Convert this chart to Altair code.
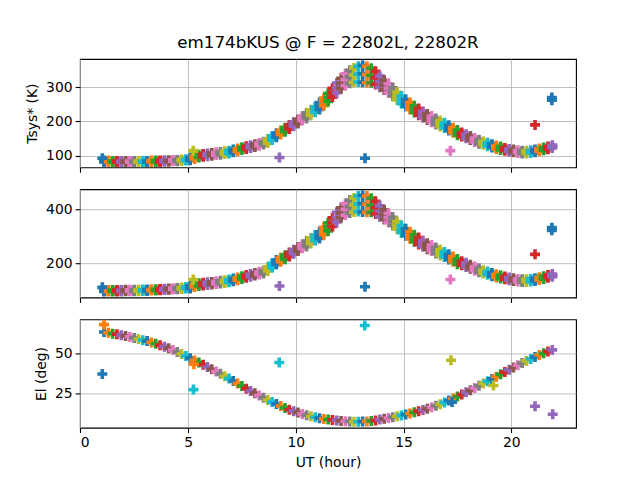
import altair as alt
import pandas as pd

# ---------------- data ----------------
UT = [1.1, 1.3, 1.5, 1.7, 1.9, 2.1, 2.3, 2.5, 2.7, 2.9,
      3.1, 3.3, 3.5, 3.7, 3.9, 4.1, 4.3, 4.5, 4.7, 4.9,
      5.1, 5.3, 5.5, 5.7, 5.9, 6.1, 6.3, 6.5, 6.7, 6.9,
      7.1, 7.3, 7.5, 7.7, 7.9, 8.1, 8.3, 8.5, 8.7, 8.9,
      9.1, 9.3, 9.5, 9.7, 9.9, 10.1, 10.3, 10.5, 10.7, 10.9,
      11.1, 11.3, 11.5, 11.7, 11.9, 12.1, 12.3, 12.5, 12.7, 12.9,
      13.1, 13.3, 13.5, 13.7, 13.9, 14.1, 14.3, 14.5, 14.7, 14.9,
      15.1, 15.3, 15.5, 15.7, 15.9, 16.1, 16.3, 16.5, 16.7, 16.9,
      17.1, 17.3, 17.5, 17.7, 17.9, 18.1, 18.3, 18.5, 18.7, 18.9,
      19.1, 19.3, 19.5, 19.7, 19.9, 20.1, 20.3, 20.5, 20.7, 20.9,
      21.1, 21.3, 21.5, 21.7, 21.9]

TSYS1_HI = [86, 86, 85, 85, 85, 85, 85, 85, 85, 85,
            85, 86, 86, 86, 87, 87, 88, 88, 89, 90,
            95, 99, 103, 105, 107, 108, 110, 111, 113, 115,
            118, 121, 125, 128, 131, 134, 137, 141,
            149, 158, 166, 174, 182, 190, 198, 206, 215,
            225, 234, 243,
            255, 268, 282, 297, 312, 326, 339, 349, 356, 361,
            364, 361, 355, 346, 332, 320, 310, 298, 285, 274,
            264, 255, 246, 238, 229, 222, 216, 209, 203,
            196, 189, 182, 175, 168, 163, 158, 152, 147,
            142, 138, 134, 130, 127,
            123, 120, 118, 116, 115, 115, 116, 118, 121, 124, 127, 131]
TSYS1_MID = [84, 84, 83, 83, 83, 83, 83, 83, 83, 83,
             83, 84, 84, 84, 85, 85, 86, 86, 87, 88,
             91, 95, 99, 101, 103, 104, 106, 107, 109, 111,
             114, 117, 121, 124, 127, 130, 133, 137,
             143, 152, 160, 168, 176, 184, 192, 200, 209,
             217, 226, 235,
             245, 257, 270, 284, 298, 311, 322, 330, 335, 338,
             339, 337, 334, 327, 316, 306, 297, 286, 274, 263,
             254, 245, 236, 228, 220, 213, 207, 200, 194,
             188, 181, 174, 167, 162, 157, 152, 146, 141,
             137, 133, 129, 125, 122,
             119, 116, 114, 112, 111, 111, 112, 114, 117, 120, 123, 127]
TSYS1_LO = [82, 82, 81, 81, 81, 81, 81, 81, 81, 81,
            81, 82, 82, 82, 83, 83, 84, 84, 85, 86,
            87, 91, 95, 97, 99, 100, 102, 103, 105, 107,
            110, 113, 117, 120, 123, 126, 129, 133,
            137, 146, 154, 162, 170, 178, 186, 194, 203,
            209, 218, 227,
            235, 246, 258, 271, 284, 296, 305, 311, 314, 315,
            314, 313, 313, 308, 300, 292, 284, 274, 263, 252,
            244, 235, 226, 218, 211, 204, 198, 191, 185,
            181, 174, 167, 160, 156, 151, 146, 140, 135,
            132, 128, 124, 120, 117,
            115, 112, 110, 108, 107, 107, 108, 110, 113, 116, 119, 123]

TSYS2_HI = [103, 103, 103, 103, 103, 104, 104, 104, 104, 105,
            105, 106, 106, 107, 108, 109, 110, 111, 112, 114,
            119, 124, 128, 130, 132, 133, 135, 137, 139, 142,
            145, 149, 154, 158, 162, 166, 170, 174,
            188, 201, 213, 222, 231, 241, 251, 261, 271,
            283, 294, 305,
            317, 333, 350, 368, 388, 405, 420, 433, 441, 448,
            451, 448, 440, 429, 412, 397, 384, 370, 354, 340,
            328, 317, 306, 296, 284, 275, 268, 259, 252,
            243, 234, 226, 217, 209, 203, 196, 189, 183,
            176, 171, 166, 161, 157,
            153, 149, 146, 144, 143, 143, 144, 146, 150, 154, 158, 162]
TSYS2_MID = [100, 100, 100, 100, 100, 101, 101, 101, 101, 102,
             102, 103, 103, 104, 105, 106, 107, 108, 109, 111,
             114, 119, 123, 125, 127, 128, 130, 132, 134, 137,
             140, 144, 149, 153, 157, 161, 165, 169,
             180, 193, 205, 214, 223, 233, 243, 253, 263,
             273, 284, 295,
             304, 319, 335, 352, 370, 386, 399, 409, 415, 419,
             420, 418, 414, 405, 392, 379, 368, 355, 340, 326,
             315, 304, 293, 283, 273, 264, 257, 248, 241,
             233, 224, 216, 207, 201, 195, 188, 181, 175,
             170, 165, 160, 155, 151,
             148, 144, 141, 139, 138, 138, 139, 141, 145, 149, 153, 157]
TSYS2_LO = [98, 98, 98, 98, 98, 99, 99, 99, 99, 100,
            100, 101, 101, 102, 103, 104, 105, 106, 107, 109,
            109, 114, 118, 120, 122, 123, 125, 127, 129, 132,
            135, 139, 144, 148, 152, 156, 160, 164,
            173, 186, 198, 207, 216, 226, 236, 246, 256,
            263, 274, 285,
            292, 306, 320, 336, 353, 368, 378, 386, 389, 391,
            389, 388, 388, 382, 372, 362, 352, 340, 327, 313,
            302, 291, 280, 270, 262, 253, 246, 237, 230,
            224, 215, 207, 198, 194, 188, 181, 174, 168,
            164, 159, 154, 149, 145,
            143, 139, 136, 134, 133, 133, 134, 136, 140, 144, 148, 152]

EL = [63.1, 62.6, 62.1, 61.7, 61.2, 60.7, 60.1, 59.5, 58.8, 58.1,
      57.5, 56.7, 55.9, 55.0, 54.1, 53.1, 52.0, 50.8, 49.6, 48.3,
      47.0, 45.6, 44.3, 42.9, 41.5, 40.1, 38.7, 37.3, 35.8, 34.4,
      32.9, 31.3, 29.8, 28.2, 26.7, 25.3, 23.9, 22.5, 21.2, 19.9,
      18.7, 17.5, 16.3, 15.2, 14.3, 13.5, 12.6, 11.8, 11.1, 10.5,
      10.0, 9.5, 9.2, 8.9, 8.6, 8.3, 8.1, 7.9, 7.8, 7.8,
      7.9, 8.0, 8.3, 8.6, 9.1, 9.6, 10.1, 10.6, 11.2, 11.7,
      12.3, 12.9, 13.6, 14.3, 15.0, 15.8, 16.7, 17.6, 18.6, 19.7,
      20.9, 22.1, 23.3, 24.6, 25.9, 27.2, 28.6, 30.0, 31.4, 32.8,
      34.2, 35.6, 37.0, 38.4, 39.8, 41.2, 42.6, 44.0, 45.3, 46.5,
      47.7, 48.9, 50.0, 51.1, 52.1]

# isolated scans (check sources)
OUT1_UT = [1.02, 5.24, 9.24, 13.21, 17.17, 21.10, 21.88, 21.88]
OUT1_VAL = [93, 115, 95, 93, 115, 190, 262, 270]
OUT1_COL = ["blue", "olive", "purple", "blue", "pink", "red", "blue", "blue"]

OUT2_UT = [1.02, 5.24, 9.24, 13.21, 17.17, 21.10, 21.88, 21.88]
OUT2_VAL = [113, 142, 118, 115, 142, 234, 322, 332]
OUT2_COL = ["blue", "olive", "purple", "blue", "pink", "red", "blue", "blue"]

OUT3_UT = [1.02, 1.10, 5.25, 5.27, 9.23, 13.20, 17.20, 17.25, 19.17, 21.10, 21.92]
OUT3_VAL = [37.2, 67.7, 27.6, 43.3, 44.3, 67.1, 45.7, 19.9, 30.1, 17.3, 12.4]
OUT3_COL = ["blue", "orange", "cyan", "orange", "cyan", "cyan", "olive", "blue", "olive", "purple", "purple"]

X_TICKS = [0, 5, 10, 15, 20]
Y1_TICKS = [100, 200, 300]
Y2_TICKS = [200, 400]
Y3_TICKS = [25, 50]

# ---------------- styling ----------------
NAMES = ["blue", "orange", "green", "red", "purple", "brown", "pink", "gray", "olive", "cyan"]
PALETTE = ["#1f77b4", "#ff7f0e", "#2ca02c", "#d62728", "#9467bd",
           "#8c564b", "#e377c2", "#7f7f7f", "#bcbd22", "#17becf"]
CMAP = dict(zip(NAMES, PALETTE))
PLUS = ("M-1,-0.36L-0.36,-0.36L-0.36,-1L0.36,-1L0.36,-0.36L1,-0.36L1,0.36L0.36,0.36"
        "L0.36,1L-0.36,1L-0.36,0.36L-1,0.36Z")
FONT = "DejaVu Sans"


def build(values_lists, out_ut, out_val, out_col):
    ut, val, col = [], [], []
    for k, t in enumerate(UT):
        for lst in values_lists:
            ut.append(t)
            val.append(lst[k])
            col.append(PALETTE[k % 10])
    for t, v, c in zip(out_ut, out_val, out_col):
        ut.append(t)
        val.append(v)
        col.append(CMAP[c])
    return pd.DataFrame({"ut": ut, "val": val, "col": col, "ord": range(len(ut))})


df1 = build([TSYS1_HI, TSYS1_MID, TSYS1_LO], OUT1_UT, OUT1_VAL, OUT1_COL)
df2 = build([TSYS2_HI, TSYS2_MID, TSYS2_LO], OUT2_UT, OUT2_VAL, OUT2_COL)
df3 = build([EL], OUT3_UT, OUT3_VAL, OUT3_COL)

W, H = 496, 108.3


def panel(df, ydom, yticks, ytitle, bottom):
    xaxis = alt.Axis(values=X_TICKS, labels=bottom, grid=True,
                     title="UT (hour)" if bottom else None)
    yaxis = alt.Axis(values=yticks, grid=True, title=ytitle)
    return (
        alt.Chart(df)
        .mark_point(shape=PLUS, filled=True, size=100, opacity=1, strokeWidth=0, clip=True)
        .encode(
            x=alt.X("ut:Q", scale=alt.Scale(domain=[-0.015, 23.0], nice=False, zero=False), axis=xaxis),
            y=alt.Y("val:Q", scale=alt.Scale(domain=ydom, nice=False, zero=False), axis=yaxis),
            color=alt.Color("col:N", scale=None),
            order=alt.Order("ord:Q"),
        )
        .properties(width=W, height=H)
    )


p1 = panel(df1, [66.5, 382], Y1_TICKS, "Tsys* (K)", False).properties(
    title=alt.TitleParams("em174bKUS @ F = 22802L, 22802R", fontSize=16.7, font=FONT,
                          fontWeight="normal", color="black", frame="group",
                          anchor="middle", offset=7))
p2 = panel(df2, [75.7, 473], Y2_TICKS, None, False)
p3 = panel(df3, [4.1, 70.9], Y3_TICKS, "El (deg)", True)

chart = (
    alt.vconcat(p1, p2, p3, spacing=14.2)
    .properties(padding={"left": 17, "top": 26, "right": 5, "bottom": 5})
    .configure(background="white")
    .configure_view(stroke="black", strokeWidth=1.1)
    .configure_axis(
        labelFont=FONT, titleFont=FONT, labelFontSize=13.9, titleFontSize=13.9,
        titleFontWeight="normal", labelColor="black", titleColor="black",
        tickColor="black", tickSize=4.9, tickWidth=1.1, labelPadding=3,
        gridColor="#b0b0b0", gridWidth=0.8, domain=False, titlePadding=6,
    )
)

chart.save("out.html", embed_options={"renderer": "svg", "actions": False})
